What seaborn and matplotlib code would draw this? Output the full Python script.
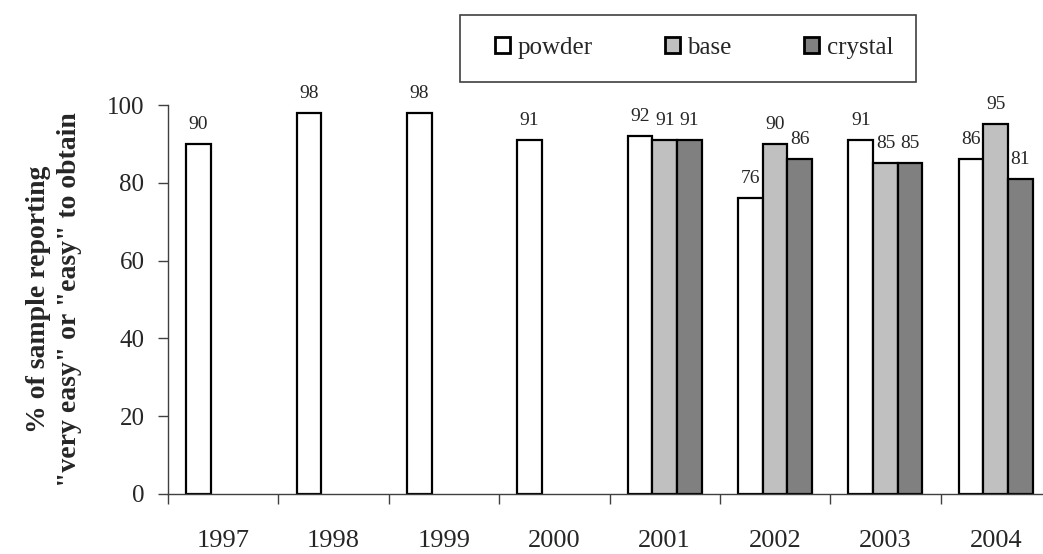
import numpy as np
import pandas as pd
import matplotlib
matplotlib.use("Agg")
import matplotlib.pyplot as plt
from matplotlib.patches import Rectangle
import seaborn as sns

# Data
years = ["1997", "1998", "1999", "2000", "2001", "2002", "2003", "2004"]
powder = [90, 98, 98, 91, 92, 76, 91, 86]
base = [np.nan, np.nan, np.nan, np.nan, 91, 90, 85, 95]
crystal = [np.nan, np.nan, np.nan, np.nan, 91, 86, 85, 81]
forms = ["powder", "base", "crystal"]
colors = ["#FFFFFF", "#C0C0C0", "#808080"]

sns.set_theme(style="white")
plt.rcParams["font.family"] = ["Liberation Serif", "DejaVu Serif"]

# long-form table, drop the years where a form was not asked about
df = pd.DataFrame({"year": years, "powder": powder, "base": base, "crystal": crystal})
df = df.melt(id_vars="year", var_name="form", value_name="pct").dropna()

W, H = 1043, 554
fig = plt.figure(figsize=(W / 100, H / 100), dpi=100)
ax = fig.add_axes([168 / W, 60 / H, 883 / W, 389 / H])

sns.barplot(data=df, x="year", y="pct", hue="form", order=years, hue_order=forms,
            palette=colors, saturation=1, width=0.67, edgecolor="black",
            linewidth=1.6, ax=ax)

for cont in ax.containers:
    ax.bar_label(cont, labels=[f"{v:.0f}" for v in cont.datavalues],
                 padding=8, fontsize=14)

ax.set_ylim(0, 100)
ax.set_xlim(-0.5, 7.5)
ax.set_yticks([0, 20, 40, 60, 80, 100])
ax.set_xticks(np.arange(-0.5, 8, 1), minor=True)
ax.tick_params(axis="x", which="major", length=0, pad=26, labelsize=19)
ax.tick_params(axis="x", which="minor", length=7, width=1, color="#404040", direction="out", bottom=True)
ax.tick_params(axis="y", length=7, width=1, color="#404040", direction="out", left=True, pad=10, labelsize=18)
ax.set_xlabel("")
ax.set_ylabel("% of sample reporting\n\"very easy\" or \"easy\" to obtain",
              fontsize=20, fontweight="bold", labelpad=18, linespacing=1.3)
sns.despine(ax=ax)
for s in ["left", "bottom"]:
    ax.spines[s].set_color("#404040")
    ax.spines[s].set_linewidth(1)

handles, labels = ax.get_legend_handles_labels()
ax.get_legend().remove()
for h in handles:
    h.set_linewidth(2)
# legend box drawn as its own rectangle, entries laid out inside it
fig.patches.append(Rectangle((460 / W, 1 - 82 / H), 456 / W, 67 / H,
                             transform=fig.transFigure, facecolor="white",
                             edgecolor="#404040", linewidth=1.2, zorder=0))
fig.legend(handles, labels, loc="center", ncol=3,
           bbox_to_anchor=(694 / W, 1 - 48 / H), frameon=False,
           fontsize=18, handlelength=0.6, handleheight=0.6,
           handletextpad=0.3, columnspacing=2.9, borderpad=0, borderaxespad=0)

fig.savefig("out.png", dpi=100)
